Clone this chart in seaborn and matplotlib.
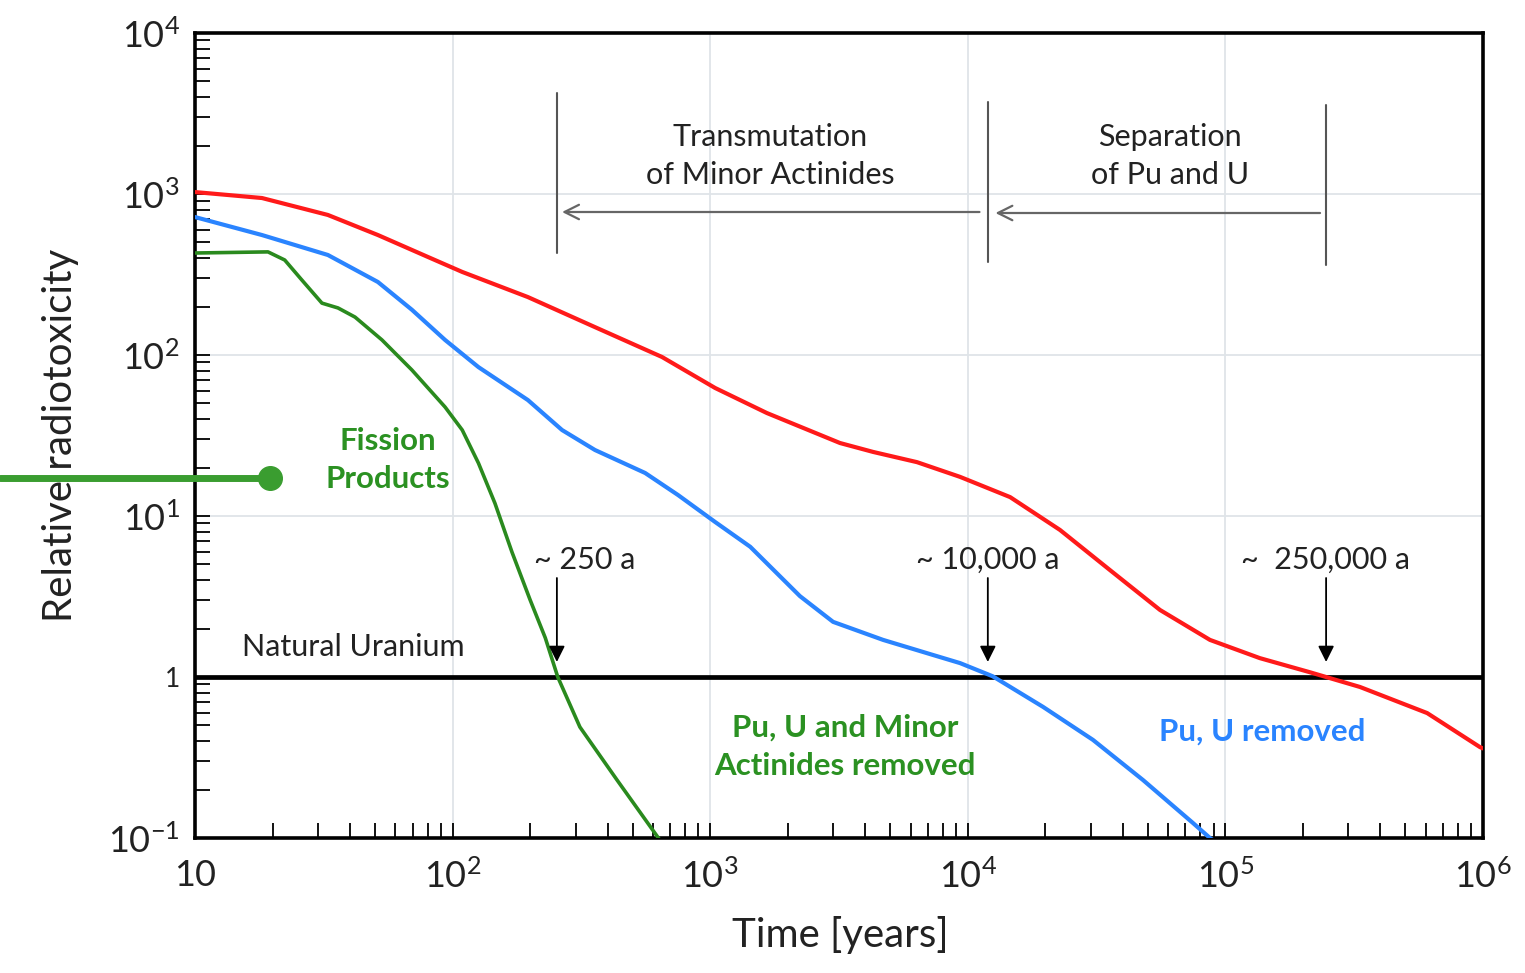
import numpy as np
import pandas as pd
import matplotlib
matplotlib.use("Agg")
import matplotlib.pyplot as plt
import seaborn as sns
from matplotlib.lines import Line2D
from matplotlib.ticker import FixedLocator, FixedFormatter, LogLocator, NullFormatter

# ---------------- data ----------------
red_years = [10, 18.2, 32.8, 51.3, 80.3, 109, 196, 357, 650, 1045, 1660, 3190, 4290,
             6350, 9330, 14600, 22800, 35600, 55700, 87100, 136000, 213000, 333000,
             607000, 973000, 1000000]
red_tox = [1028, 944, 741, 556, 406, 328, 229, 149, 97.2, 62.4, 43.6, 28.4, 25.0,
           21.6, 17.5, 13.1, 8.19, 4.62, 2.61, 1.70, 1.31, 1.07, 0.867,
           0.597, 0.367, 0.36]

blue_years = [10, 18.2, 32.8, 51.3, 69.5, 93.5, 126, 196, 266, 357, 559, 750, 1045,
              1430, 2230, 3000, 4690, 7330, 9330, 12500, 19600, 30600, 47900, 74800,
              87100, 91200]
blue_tox = [719, 556, 418, 284, 191, 124, 84.1, 52.5, 34.2, 25.7, 18.5, 13.5, 9.18,
            6.44, 3.18, 2.20, 1.70, 1.37, 1.22, 1.01, 0.652, 0.407, 0.229, 0.124,
            0.100, 0.095]

green_years = [10, 19.2, 22.3, 26.0, 31.1, 35.9, 41.8, 53.2, 69.5, 93.5, 109, 126,
               146, 170, 200, 229, 256, 312, 435, 638]
green_tox = [430, 437, 389, 292, 210, 196, 172, 124, 80.7, 47.5, 34.2, 21.3,
             12.0, 5.97, 3.01, 1.75, 1.0, 0.489, 0.229, 0.097]

x_ticks = [10, 1e2, 1e3, 1e4, 1e5, 1e6]
x_ticklabels = ["10", r"$\mathregular{10^{2}}$", r"$\mathregular{10^{3}}$",
                r"$\mathregular{10^{4}}$", r"$\mathregular{10^{5}}$", r"$\mathregular{10^{6}}$"]
y_ticks = [0.1, 1, 10, 100, 1000, 10000]
y_ticklabels = [r"$\mathregular{10^{-1}}$", "1", r"$\mathregular{10^{1}}$",
                r"$\mathregular{10^{2}}$", r"$\mathregular{10^{3}}$", r"$\mathregular{10^{4}}$"]

natural_uranium = 1.0
crossing_years = [254, 11960, 246000]
crossing_label_x = [327, 11960, 244000]
crossing_labels = ["~ 250 a", "~ 10,000 a", "~  250,000 a"]

# ---------------- style ----------------
sns.set_style("white")
plt.rcParams["font.family"] = ["Lato", "DejaVu Sans"]
plt.rcParams["mathtext.fontset"] = "custom"
plt.rcParams["mathtext.rm"] = "Lato"
plt.rcParams["mathtext.it"] = "Lato:italic"
plt.rcParams["mathtext.bf"] = "Lato:bold"

RED = "#ff1a1a"
BLUE = "#2a84ff"
GREEN = "#2a8a1e"
GREEN_TXT = "#2b9122"
GREEN_PTR = "#3a9d30"
TXT = "#222222"

fig = plt.figure(figsize=(15.25, 9.73), dpi=100)
ax = fig.add_axes([195 / 1525, 1 - 838 / 973, (1483 - 195) / 1525, (838 - 33) / 973])

df = pd.concat([
    pd.DataFrame({"years": red_years, "tox": red_tox, "series": "all"}),
    pd.DataFrame({"years": blue_years, "tox": blue_tox, "series": "pu_u"}),
    pd.DataFrame({"years": green_years, "tox": green_tox, "series": "fp"}),
])

ax.set_xscale("log")
ax.set_yscale("log")
ax.set_xlim(10, 1e6)
ax.set_ylim(0.1, 1e4)

ax.grid(True, which="major", color="#dfe4e8", lw=1.3)
ax.set_axisbelow(True)

ax.axhline(natural_uranium, color="black", lw=3.4, zorder=2)

for key, col in [("all", RED), ("pu_u", BLUE), ("fp", GREEN)]:
    sub = df[df["series"] == key]
    sns.lineplot(data=sub, x="years", y="tox", ax=ax, color=col,
                 lw=3.0 if key != "fp" else 2.6,
                 sort=False, estimator=None, zorder=3)
for ln in ax.get_lines():
    ln.set_solid_joinstyle("round")
    ln.set_solid_capstyle("round")

# ticks
ax.xaxis.set_major_locator(FixedLocator(x_ticks))
ax.xaxis.set_major_formatter(FixedFormatter(x_ticklabels))
ax.yaxis.set_major_locator(FixedLocator(y_ticks))
ax.yaxis.set_major_formatter(FixedFormatter(y_ticklabels))
ax.xaxis.set_minor_locator(LogLocator(base=10, subs=np.arange(2, 10), numticks=20))
ax.yaxis.set_minor_locator(LogLocator(base=10, subs=np.arange(2, 10), numticks=20))
ax.xaxis.set_minor_formatter(NullFormatter())
ax.yaxis.set_minor_formatter(NullFormatter())
ax.tick_params(axis="both", which="both", direction="in", length=11, width=1.3,
               color="black", top=False, right=False, bottom=True, left=True)
ax.tick_params(axis="x", which="major", labelsize=26, pad=15, labelcolor=TXT)
ax.tick_params(axis="y", which="major", labelsize=26, pad=11, labelcolor=TXT)
for t, lab in zip(ax.yaxis.get_major_ticks(), y_ticklabels):
    if lab == "1":
        t.label1.set_fontsize(19)

for s in ax.spines.values():
    s.set_color("black")
    s.set_linewidth(2.6)

ax.set_xlabel("Time [years]", fontsize=29, va="center", color=TXT)
ax.xaxis.set_label_coords(0.5008, -0.1205)
ax.set_ylabel("Relative radiotoxicity", fontsize=29, va="center", color=TXT)
ax.yaxis.set_label_coords(-0.1048, 0.50)

# ---------------- annotations ----------------
GREY = "#555555"
for xv, y0, y1 in [(254, 430, 4240), (11960, 378, 3720), (246000, 362, 3570)]:
    ax.plot([xv, xv], [y0, y1], color=GREY, lw=1.5, zorder=4)
for x_from, x_to, yv in [(11100, 266, 773), (233000, 12800, 762)]:
    ax.annotate("", xy=(x_to, yv), xytext=(x_from, yv),
                arrowprops=dict(arrowstyle="->", color="#666666", lw=1.6,
                                mutation_scale=26, shrinkA=0, shrinkB=0))
ax.text(1710, 1720, "Transmutation\nof Minor Actinides", ha="center", va="center",
        fontsize=22, color=TXT, linespacing=1.47)
ax.text(61000, 1720, "Separation\nof Pu and U", ha="center", va="center",
        fontsize=22, color=TXT, linespacing=1.47)

for lx, lab in zip(crossing_label_x, crossing_labels):
    ax.text(lx, 5.33, lab, ha="center", va="center", fontsize=22, color=TXT)
for xv in crossing_years:
    ax.annotate("", xy=(xv, 1.24), xytext=(xv, 4.12),
                arrowprops=dict(arrowstyle="-|>", color="black", lw=1.3,
                                mutation_scale=24, shrinkA=0, shrinkB=0))

ax.text(15.2, 1.53, "Natural Uranium", ha="left", va="center", fontsize=22, color=TXT)

ax.text(56, 22.3, "Fission\nProducts", ha="center", va="center", fontsize=22.5,
        fontweight="bold", color=GREEN_TXT, linespacing=1.47)
ax.text(3340, 0.367, "Pu, U and Minor\nActinides removed", ha="center", va="center",
        fontsize=22.5, fontweight="bold", color=GREEN_TXT, linespacing=1.47)
ax.text(139000, 0.455, "Pu, U removed", ha="center", va="center", fontsize=22.5,
        fontweight="bold", color=BLUE)

# green pointer line coming from the left edge of the figure
fy = 1 - 478 / 973
fig.add_artist(Line2D([0, 270 / 1525], [fy, fy], color=GREEN_PTR, lw=5, zorder=10,
                      transform=fig.transFigure))
fig.add_artist(Line2D([270 / 1525], [fy], marker="o", markersize=17, color=GREEN_PTR,
                      zorder=11, transform=fig.transFigure))

fig.savefig("out.png", dpi=100)
